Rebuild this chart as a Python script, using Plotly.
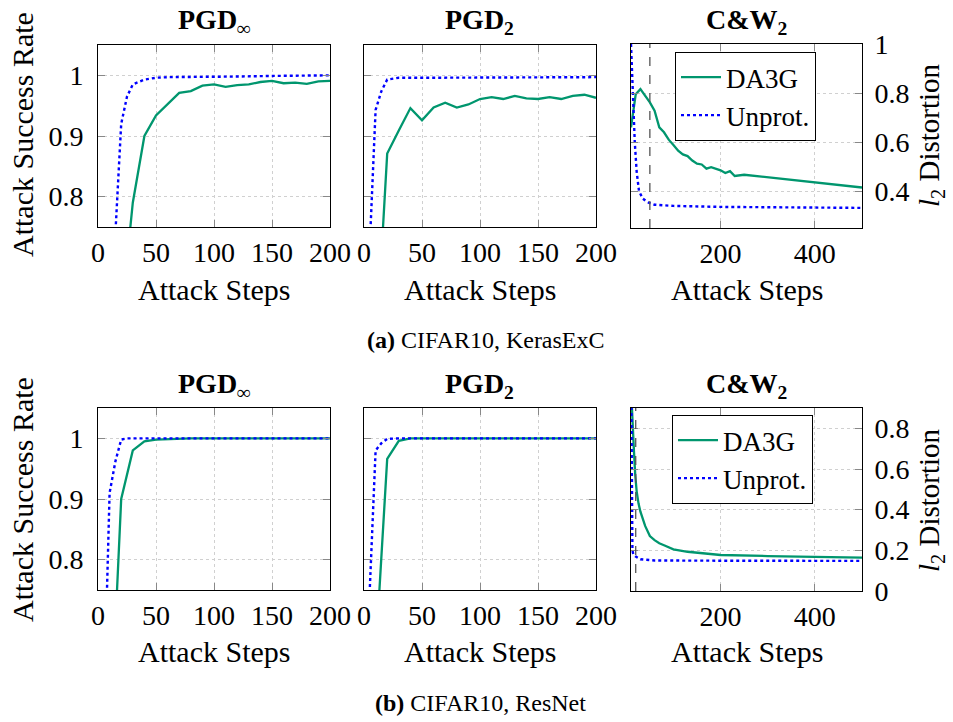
import plotly.graph_objects as go

W, H = 953, 722
FONT = "Liberation Serif"
GREEN = "#00966e"
BLUE = "#0000ff"


def fx(px):
    return px / W


def fy(py):
    return 1 - py / H


# ---------------- data ----------------
steps10 = [10, 20, 30, 40, 50, 60, 70, 80, 90, 100, 110, 120, 130, 140, 150, 160, 170, 180, 190, 200]

# (a) CIFAR10, KerasExC
a_pgdinf_da3g = [0.35, 0.60, 0.79, 0.90, 0.934, 0.953, 0.971, 0.974, 0.983, 0.985,
                 0.981, 0.984, 0.985, 0.989, 0.991, 0.987, 0.988, 0.986, 0.990, 0.991]
a_pgdinf_unprot_x = [5, 10, 15, 20, 25, 30, 40, 50, 60, 80, 100, 120, 150, 200]
a_pgdinf_unprot_y = [0.30, 0.57, 0.74, 0.92, 0.965, 0.985, 0.993, 0.996, 0.997, 0.997, 0.998, 0.998, 0.999, 1.0]

a_pgd2_da3g = [0.535, 0.871, 0.909, 0.946, 0.926, 0.947, 0.955, 0.947, 0.952, 0.961,
               0.964, 0.961, 0.966, 0.962, 0.961, 0.964, 0.961, 0.966, 0.968, 0.963]
a_pgd2_unprot_x = [0, 5, 10, 15, 20, 30, 50, 100, 150, 200]
a_pgd2_unprot_y = [0.30, 0.72, 0.943, 0.974, 0.993, 0.996, 0.996, 0.996, 0.996, 0.997]

a_cw_da3g_x = [10, 20, 30, 50, 60, 70, 80, 90, 100, 110, 120, 130, 140, 150, 160, 170, 180,
               200, 210, 220, 230, 250, 500]
a_cw_da3g_y = [0.66, 0.795, 0.816, 0.762, 0.728, 0.66, 0.64, 0.61, 0.588, 0.565, 0.55, 0.543,
               0.525, 0.512, 0.509, 0.492, 0.498, 0.485, 0.474, 0.482, 0.462, 0.467, 0.415]
a_cw_unprot_x = [10, 14, 18, 22, 27, 35, 45, 60, 100, 200, 500]
a_cw_unprot_y = [1.0, 0.8, 0.6, 0.48, 0.40, 0.37, 0.355, 0.345, 0.34, 0.336, 0.332]
a_cw_marker = 50

# (b) CIFAR10, ResNet
b_pgdinf_da3g = [0.483, 0.90, 0.98, 0.995, 0.998, 0.999, 1.0, 1.0, 1.0, 1.0,
                 1.0, 1.0, 1.0, 1.0, 1.0, 1.0, 1.0, 1.0, 1.0, 1.0]
b_pgdinf_unprot_x = [0, 5, 10, 15, 20, 25, 30, 50, 100, 150, 200]
b_pgdinf_unprot_y = [0.20, 0.546, 0.91, 0.962, 0.998, 1.0, 1.0, 1.0, 1.0, 1.0, 1.0]

b_pgd2_da3g = [0.644, 0.966, 0.996, 1.0, 1.0, 1.0, 1.0, 1.0, 1.0, 1.0,
               1.0, 1.0, 1.0, 1.0, 1.0, 1.0, 1.0, 1.0, 1.0, 1.0]
b_pgd2_unprot_x = [0, 5, 10, 15, 20, 30, 50, 100, 150, 200]
b_pgd2_unprot_y = [0.30, 0.752, 0.98, 0.992, 0.999, 1.0, 1.0, 1.0, 1.0, 1.0]

b_cw_da3g_x = [10, 13, 16, 19, 22, 26, 30, 40, 50, 60, 70, 80, 100, 130, 160, 200, 300, 500]
b_cw_da3g_y = [1.0, 0.88, 0.70, 0.57, 0.49, 0.43, 0.39, 0.32, 0.27, 0.25, 0.235, 0.225,
               0.205, 0.193, 0.185, 0.177, 0.172, 0.164]
b_cw_unprot_x = [10, 12, 13, 15, 20, 30, 60, 200, 500]
b_cw_unprot_y = [1.2, 0.5, 0.2, 0.18, 0.17, 0.156, 0.15, 0.149, 0.148]
b_cw_marker = 20

pgd_xticks = [0, 50, 100, 150, 200]
pgd_yticks = [0.8, 0.9, 1.0]
pgd_yticktext = ["0.8", "0.9", "1"]
cw_xticks = [200, 400]
a_cw_yticks = [0.4, 0.6, 0.8, 1.0]
a_cw_yticktext = ["0.4", "0.6", "0.8", "1"]
b_cw_yticks = [0, 0.2, 0.4, 0.6, 0.8]
b_cw_yticktext = ["0", "0.2", "0.4", "0.6", "0.8"]

titles = ["<b>PGD<sub>∞</sub></b>", "<b>PGD<sub>2</sub></b>", "<b>C&amp;W<sub>2</sub></b>"]

# ---------------- layout geometry (pixels) ----------------
boxes = [  # x0, x1, y0(top), y1(bottom)
    (98, 330, 45, 227), (364, 596, 45, 227), (631, 862, 44, 228),
    (98, 330, 408, 590), (364, 596, 408, 590), (631, 862, 408, 591),
]

fig = go.Figure()


def solid_green(x, y, ax, legend=None):
    return go.Scatter(x=x, y=y, mode="lines", line=dict(color=GREEN, width=2.3),
                      xaxis="x" + ax, yaxis="y" + ax, name="DA3G",
                      showlegend=legend is not None, legend=legend or "legend")


def dot_blue(x, y, ax, legend=None):
    return go.Scatter(x=x, y=y, mode="lines", line=dict(color=BLUE, width=2.4, dash="dot"),
                      xaxis="x" + ax, yaxis="y" + ax, name="Unprot.",
                      showlegend=legend is not None, legend=legend or "legend")


# top row
fig.add_trace(solid_green(steps10, a_pgdinf_da3g, ""))
fig.add_trace(dot_blue(a_pgdinf_unprot_x, a_pgdinf_unprot_y, ""))
fig.add_trace(solid_green(steps10, a_pgd2_da3g, "2"))
fig.add_trace(dot_blue(a_pgd2_unprot_x, a_pgd2_unprot_y, "2"))
fig.add_trace(solid_green(a_cw_da3g_x, a_cw_da3g_y, "3", legend="legend"))
fig.add_trace(dot_blue(a_cw_unprot_x, a_cw_unprot_y, "3", legend="legend"))
# bottom row
fig.add_trace(solid_green(steps10, b_pgdinf_da3g, "4"))
fig.add_trace(dot_blue(b_pgdinf_unprot_x, b_pgdinf_unprot_y, "4"))
fig.add_trace(solid_green(steps10, b_pgd2_da3g, "5"))
fig.add_trace(dot_blue(b_pgd2_unprot_x, b_pgd2_unprot_y, "5"))
fig.add_trace(solid_green(b_cw_da3g_x, b_cw_da3g_y, "6", legend="legend2"))
fig.add_trace(dot_blue(b_cw_unprot_x, b_cw_unprot_y, "6", legend="legend2"))

tickfont = dict(family=FONT, size=28, color="black")
common = dict(showline=True, linecolor="black", linewidth=1, mirror="allticks",
              ticks="inside", ticklen=7, tickcolor="#888888", tickwidth=1,
              showgrid=True, gridcolor="#d0d0d0", griddash="dot", gridwidth=1,
              zeroline=False, tickfont=tickfont, fixedrange=True, automargin=False)

layout = {}
for i, (x0, x1, y0, y1) in enumerate(boxes):
    n = "" if i == 0 else str(i + 1)
    col = i % 3
    xd = [fx(x0), fx(x1)]
    yd = [fy(y1), fy(y0)]
    if col < 2:
        xa = dict(domain=xd, anchor="y" + n, range=[0, 200], tickvals=pgd_xticks,
                  ticklabelstandoff=0, **common)
        ya = dict(domain=yd, anchor="x" + n, range=[0.75, 1.05], tickvals=pgd_yticks,
                  ticktext=pgd_yticktext, showticklabels=(col == 0),
                  ticklabelstandoff=8, **common)
    else:
        xa = dict(domain=xd, anchor="y" + n, range=[10, 500], tickvals=cw_xticks,
                  ticklabelstandoff=0, **common)
        if i == 2:
            ya = dict(domain=yd, anchor="x" + n, range=[0.25, 1.0], tickvals=a_cw_yticks,
                      ticktext=a_cw_yticktext, side="right", ticklabelstandoff=6, **common)
        else:
            ya = dict(domain=yd, anchor="x" + n, range=[0, 0.9], tickvals=b_cw_yticks,
                      ticktext=b_cw_yticktext, side="right", ticklabelstandoff=6, **common)
    layout["xaxis" + n] = xa
    layout["yaxis" + n] = ya

# dashed markers in C&W panels
shapes = []
for ax, xv in (("3", a_cw_marker), ("6", b_cw_marker)):
    shapes.append(dict(type="line", xref="x" + ax, yref="y" + ax + " domain",
                       x0=xv, x1=xv, y0=0, y1=1,
                       line=dict(color="#555555", width=1.3, dash="dash")))

ann = []
txt = dict(family=FONT, size=30, color="black")
ttl = dict(family=FONT, size=28, color="black")
for row, (ttl_y, steps_y) in enumerate(((21, 289), (385, 651))):
    for col in range(3):
        x0, x1, y0, y1 = boxes[row * 3 + col]
        ann.append(dict(text=titles[col], x=fx((x0 + x1) / 2), y=fy(ttl_y),
                        xref="paper", yref="paper", showarrow=False,
                        xanchor="center", yanchor="middle", font=ttl))
        ann.append(dict(text="Attack Steps", x=fx((x0 + x1) / 2), y=fy(steps_y),
                        xref="paper", yref="paper", showarrow=False,
                        xanchor="center", yanchor="middle", font=txt))
for cy in (135, 500):
    ann.append(dict(text="Attack Success Rate", x=fx(22), y=fy(cy), xref="paper",
                    yref="paper", showarrow=False, textangle=-90,
                    xanchor="center", yanchor="middle", font=txt))
    ann.append(dict(text="<i>l</i><sub>2</sub> Distortion", x=fx(931), y=fy(cy),
                    xref="paper", yref="paper", showarrow=False, textangle=-90,
                    xanchor="center", yanchor="middle",
                    font=dict(family=FONT, size=29, color="black")))
cap = dict(family=FONT, size=24, color="black")
ann.append(dict(text="<b>(a)</b> CIFAR10, KerasExC", x=fx(486), y=fy(340),
                xref="paper", yref="paper", showarrow=False,
                xanchor="center", yanchor="middle", font=cap))
ann.append(dict(text="<b>(b)</b> CIFAR10, ResNet", x=fx(481), y=fy(703),
                xref="paper", yref="paper", showarrow=False,
                xanchor="center", yanchor="middle", font=cap))

legstyle = dict(bgcolor="white", bordercolor="black", borderwidth=1,
                font=dict(family=FONT, size=27, color="black"),
                xref="paper", yref="paper", xanchor="left", yanchor="top",
                itemwidth=40, tracegroupgap=0, entrywidth=130, entrywidthmode="pixels")

fig.update_layout(
    width=W, height=H, margin=dict(l=0, r=0, t=0, b=0, autoexpand=False),
    paper_bgcolor="white", plot_bgcolor="white",
    shapes=shapes, annotations=ann,
    legend=dict(x=fx(675), y=fy(52), **legstyle),
    legend2=dict(x=fx(672), y=fy(415), **legstyle),
    **layout,
)

# remove the browser's default 8px body margin so the figure fills the window
fig.write_html("out.html", config={"displayModeBar": False},
               post_script="document.body.style.margin='0px';document.body.style.overflow='hidden';")
